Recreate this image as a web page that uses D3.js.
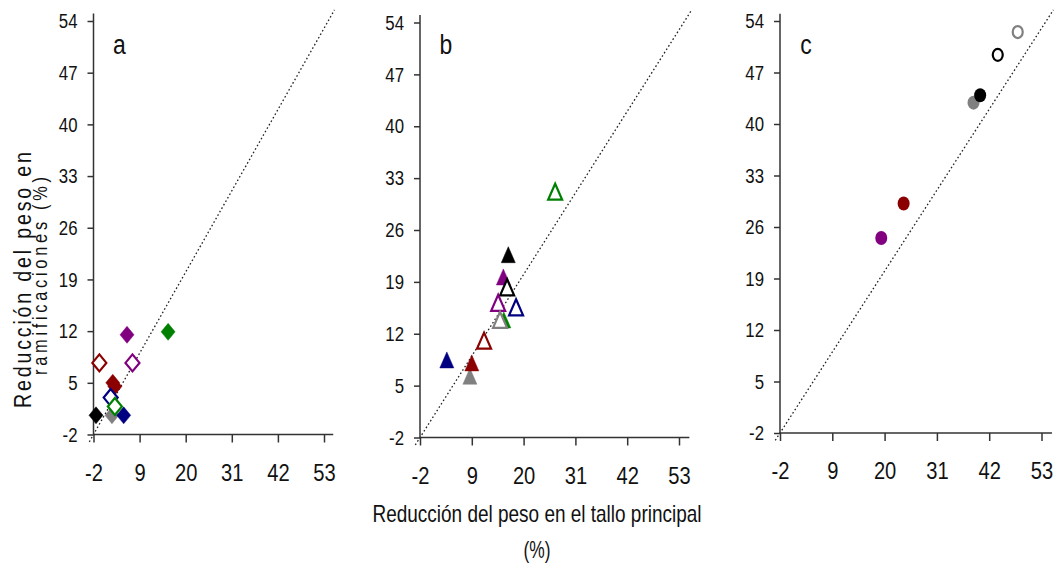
<!DOCTYPE html>
<html>
<head>
<meta charset="utf-8">
<script src="https://cdn.jsdelivr.net/npm/d3@7"></script>
<style>
  body { margin: 0; background: #fff; }
  svg { display: block; }
</style>
</head>
<body>
<svg id="chart" width="1054" height="564"></svg>
<script>
// Shared tick values
const xTicks = [-2, 9, 20, 31, 42, 53];
const yTicks = [-2, 5, 12, 19, 26, 33, 40, 47, 54];

// Panel a: diamonds
const aX      = [-1.4, 2.4, 5.2, 6.0, 15.8, 2.6, 3.1, -0.6, 7.3, 2.1, 3.1];
const aY      = [0.6, 0.6, 0.6, 11.5, 11.9, 5.0, 4.5, 7.7, 7.7, 3.0, 1.8];
const aGroup  = ["negro", "gris", "azul", "morado", "verde", "granate", "granate", "granate", "morado", "azul", "verde"];
const aFilled = [true, true, true, true, true, true, true, false, false, false, false];

// Panel b: triangles
const bX      = [16.75, 15.7, 15.8, 3.7, 8.6, 9.0, 26.7, 16.5, 14.6, 18.4, 15.0, 11.6];
const bY      = [22.6, 19.6, 13.8, 8.4, 6.2, 8.0, 31.1, 18.2, 16.1, 15.5, 13.8, 11.0];
const bGroup  = ["negro", "morado", "verde", "azul", "gris", "granate", "verde", "negro", "morado", "azul", "gris", "granate"];
const bFilled = [true, true, true, true, true, true, false, false, false, false, false, false];

// Panel c: circles
const cX      = [38.7, 40.1, 24.0, 19.3, 48.0, 43.8];
const cY      = [42.9, 43.9, 29.2, 24.5, 52.5, 49.4];
const cGroup  = ["gris", "negro", "granate", "morado", "gris", "negro"];
const cFilled = [true, true, true, true, false, false];

const panelLetters = ["a", "b", "c"];
const xTitle = "Reducción del peso en el tallo principal";
const xTitleUnit = "(%)";
const yTitle1 = "Reducción del peso en";
const yTitle2 = "ramificaciones (%)";

const groupColor = {
  negro: "#000000",
  gris: "#808080",
  azul: "#000080",
  morado: "#800080",
  verde: "#008000",
  granate: "#8b0000"
};

const FONT = "'Liberation Sans', Arial, sans-serif";
const svg = d3.select("#chart");

// Horizontally condense text elements while keeping their anchor point
function narrow(sel, sx) {
  sel.each(function () {
    const t = d3.select(this);
    const x0 = +t.attr("x") || 0;
    t.attr("x", x0 / sx).attr("transform", `scale(${sx},1)`);
  });
}

const zip = (xs, ys, gs, fs) => xs.map((x, i) => ({ x, y: ys[i], g: gs[i], f: fs[i] }));

const panels = [
  { letter: panelLetters[0], left: 93.5, right: 324, top: 21, bottom: 434.5, shape: "diamond", pts: zip(aX, aY, aGroup, aFilled) },
  { letter: panelLetters[1], left: 420, right: 679, top: 22.5, bottom: 437.5, shape: "triangle", pts: zip(bX, bY, bGroup, bFilled) },
  { letter: panelLetters[2], left: 780, right: 1041.5, top: 21, bottom: 433, shape: "circle", pts: zip(cX, cY, cGroup, cFilled) }
];

// Marker outlines centred on the point
const shapePath = {
  diamond: "M0,-8.5L7,0L0,8.5L-7,0Z",
  triangle: "M0,-8.5L7,7.5L-7,7.5Z"
};

panels.forEach(p => {
  const x = d3.scaleLinear().domain([-2, 53]).range([p.left, p.right]);
  const y = d3.scaleLinear().domain([-2, 54]).range([p.bottom, p.top]);
  const g = svg.append("g");

  // 1:1 reference line
  g.append("line")
    .attr("x1", x(-3)).attr("y1", y(-3))
    .attr("x2", x(55.5)).attr("y2", y(55.5))
    .attr("stroke", "#222").attr("stroke-width", 1.3)
    .attr("stroke-dasharray", "1.6,2.4");

  // Axes
  const xAxis = g.append("g")
    .attr("transform", `translate(0,${y(-2)})`)
    .call(d3.axisBottom(x).tickValues(xTicks).tickSize(8).tickSizeOuter(0).tickPadding(21).tickFormat(d => String(d)));
  const yAxis = g.append("g")
    .attr("transform", `translate(${x(-2)},0)`)
    .call(d3.axisLeft(y).tickValues(yTicks).tickSize(6).tickSizeOuter(0).tickPadding(10).tickFormat(d => String(d)));
  [xAxis, yAxis].forEach(ax => {
    ax.select(".domain").remove();
    ax.selectAll(".tick line").attr("stroke", "#333").attr("stroke-width", 1.5);
    ax.selectAll(".tick text").attr("fill", "#111").style("font-family", FONT);
  });
  xAxis.selectAll(".tick text").style("font-size", "24px");
  yAxis.selectAll(".tick text").style("font-size", "21px");
  narrow(xAxis.selectAll(".tick text"), 0.84);
  narrow(yAxis.selectAll(".tick text"), 0.8);

  g.append("line")
    .attr("x1", x(-2)).attr("y1", y(-2)).attr("x2", x(55.2)).attr("y2", y(-2))
    .attr("stroke", "#333").attr("stroke-width", 1.5);
  g.append("line")
    .attr("x1", x(-2)).attr("y1", y(-2) + 0.75).attr("x2", x(-2)).attr("y2", y(55))
    .attr("stroke", "#333").attr("stroke-width", 1.5);

  // Panel letter
  const lx = x(-2) + 26;
  g.append("text")
    .attr("transform", `translate(${lx},54) scale(0.85,1)`)
    .attr("text-anchor", "middle")
    .style("font-family", FONT).style("font-size", "27px")
    .attr("fill", "#111")
    .text(p.letter);

  // Points
  const marks = g.selectAll(".pt").data(p.pts).enter();
  const fillOf = d => d.f ? groupColor[d.g] : "#fff";
  if (p.shape === "circle") {
    marks.append("ellipse")
      .attr("cx", d => x(d.x)).attr("cy", d => y(d.y))
      .attr("rx", d => d.f ? 6 : 5).attr("ry", d => d.f ? 7 : 6)
      .attr("fill", fillOf)
      .attr("stroke", d => groupColor[d.g])
      .attr("stroke-width", d => d.f ? 0 : 2.2);
  } else {
    marks.append("path")
      .attr("d", shapePath[p.shape])
      .attr("transform", d => `translate(${x(d.x)},${y(d.y)})`)
      .attr("fill", fillOf)
      .attr("stroke", d => groupColor[d.g])
      .attr("stroke-width", d => d.f ? 0.5 : 2.2)
      .attr("stroke-linejoin", "miter");
  }
});

// Shared axis titles
svg.append("text")
  .attr("x", 537).attr("y", 522)
  .attr("text-anchor", "middle")
  .attr("textLength", 329).attr("lengthAdjust", "spacingAndGlyphs")
  .style("font-family", FONT).style("font-size", "24px").attr("fill", "#111")
  .text(xTitle);
svg.append("text")
  .attr("x", 537).attr("y", 558)
  .attr("text-anchor", "middle")
  .attr("textLength", 27).attr("lengthAdjust", "spacingAndGlyphs")
  .style("font-family", FONT).style("font-size", "24px").attr("fill", "#111")
  .text(xTitleUnit);

svg.append("text")
  .attr("transform", "translate(31,280) rotate(-90) scale(0.82,1)")
  .attr("text-anchor", "middle")
  .attr("textLength", 256 / 0.82).attr("lengthAdjust", "spacing")
  .style("font-family", FONT).style("font-size", "24px").attr("fill", "#111")
  .text(yTitle1);
svg.append("text")
  .attr("transform", "translate(47,276) rotate(-90) scale(0.82,1)")
  .attr("text-anchor", "middle")
  .attr("textLength", 198 / 0.82).attr("lengthAdjust", "spacing")
  .style("font-family", FONT).style("font-size", "20px").attr("fill", "#111")
  .text(yTitle2);
</script>
</body>
</html>
